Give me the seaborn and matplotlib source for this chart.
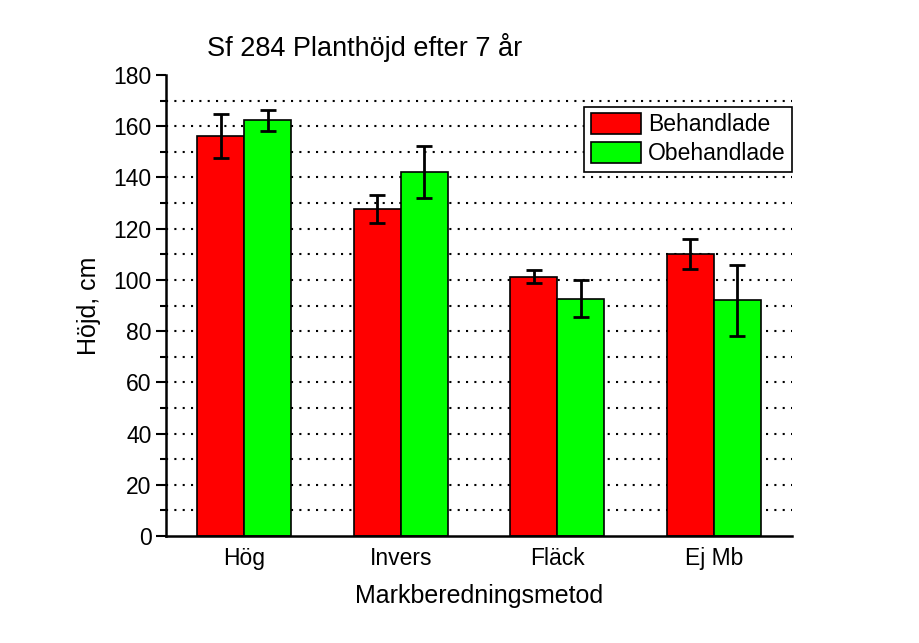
import matplotlib
matplotlib.use("Agg")
import matplotlib.pyplot as plt
from matplotlib.ticker import MultipleLocator
import seaborn as sns
import pandas as pd
import numpy as np

categories = ["Hög", "Invers", "Fläck", "Ej Mb"]
series_names = ["Behandlade", "Obehandlade"]
behandlade = [156.2, 127.8, 101.3, 110.1]
behandlade_err = [8.6, 5.4, 2.6, 6.0]
obehandlade = [162.3, 142.0, 92.7, 92.0]
obehandlade_err = [4.2, 10.1, 7.2, 14.0]
colors = ["#ff0000", "#00ff00"]

sns.set_theme(style="white")
plt.rcParams["font.family"] = ["Liberation Sans", "DejaVu Sans"]
plt.rcParams["text.color"] = "black"
plt.rcParams["axes.labelcolor"] = "black"
plt.rcParams["xtick.color"] = "black"
plt.rcParams["ytick.color"] = "black"

df = pd.DataFrame({
    "Metod": categories * 2,
    "Serie": [series_names[0]] * 4 + [series_names[1]] * 4,
    "Höjd": behandlade + obehandlade,
    "err": behandlade_err + obehandlade_err,
})

fig = plt.figure(figsize=(9.2, 6.43), dpi=100)
ax = fig.add_axes([166 / 920, 1 - 536 / 643, (792 - 166) / 920, (536 - 75) / 643])

sns.barplot(data=df, x="Metod", y="Höjd", hue="Serie", order=categories,
            hue_order=series_names, palette=colors, width=0.6, gap=0,
            errorbar=None, edgecolor="black", linewidth=1.2, saturation=1,
            ax=ax, zorder=2)

# error bars at bar centers
for cont, errs in zip(ax.containers, [behandlade_err, obehandlade_err]):
    xs = [p.get_x() + p.get_width() / 2 for p in cont.patches]
    ys = [p.get_height() for p in cont.patches]
    ax.errorbar(xs, ys, yerr=errs, fmt="none", ecolor="black",
                elinewidth=2, capsize=6, capthick=2, zorder=3)

ax.set_xlim(-0.5, 3.5)
ax.set_ylim(0, 180)
ax.yaxis.set_major_locator(MultipleLocator(20))
ax.yaxis.set_minor_locator(MultipleLocator(10))
for yv in range(10, 180, 10):
    ax.axhline(yv, color="black", linestyle=(0, (1, 3)), linewidth=1.5, zorder=0)

for s in ["top", "right"]:
    ax.spines[s].set_visible(False)
for s in ["left", "bottom"]:
    ax.spines[s].set_color("black")
    ax.spines[s].set_linewidth(1.8)

ax.tick_params(axis="y", which="major", direction="out", length=7.5, width=1.5,
               color="black", labelcolor="black", labelsize=16.5, pad=3, left=True)
ax.tick_params(axis="y", which="minor", direction="out", length=4, width=1.5,
               color="black", left=True)
ax.tick_params(axis="x", which="both", length=0, labelsize=16.5, pad=8,
               labelcolor="black")

ax.set_xlabel("Markberedningsmetod", fontsize=18, labelpad=10, color="black")
ax.set_ylabel("Höjd, cm", fontsize=18, labelpad=9, color="black")

leg = ax.legend(loc="upper right", bbox_to_anchor=(1.0, 0.931), fontsize=16.5,
                frameon=True, fancybox=False, edgecolor="black",
                handlelength=2.2, handleheight=1.0, handletextpad=0.3,
                borderpad=0.28, labelspacing=0.25, borderaxespad=0)
leg.get_frame().set_linewidth(1.2)
leg.get_frame().set_alpha(1)
for t in leg.get_texts():
    t.set_color("black")

fig.text(365 / 920, 1 - 48 / 643, "Sf 284 Planthöjd efter 7 år", fontsize=19.5,
         ha="center", va="center", color="black")

fig.savefig("out.png", dpi=100, facecolor="white")
